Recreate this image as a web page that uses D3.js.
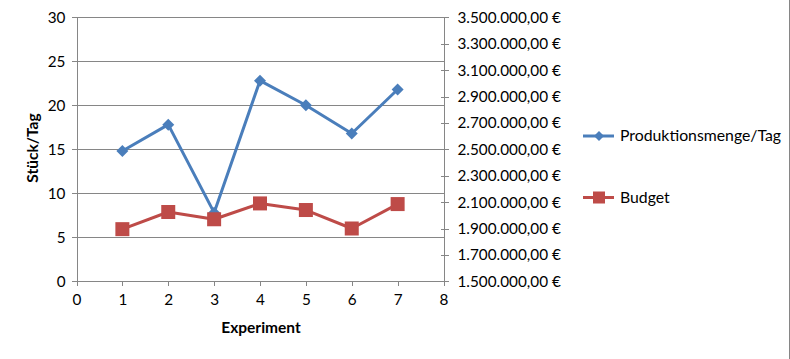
<!DOCTYPE html>
<html><head><meta charset="utf-8">
<script src="https://cdn.jsdelivr.net/npm/d3@7"></script>
<style>body{margin:0;background:#fff}svg{display:block}text{font-family:Lato,"Open Sans",sans-serif}</style>
</head><body>
<svg id="c" width="790" height="359"></svg>
<script>
const experiments = [1,2,3,4,5,6,7];
const produktion = [14.8, 17.8, 7.8, 22.8, 20.0, 16.8, 21.8];
const budget = [1895000, 2025000, 1970000, 2090000, 2040000, 1900000, 2085000];
const leftTicks = [0,5,10,15,20,25,30];
const xTicks = [0,1,2,3,4,5,6,7,8];
const rightTicks = [1500000,1700000,1900000,2100000,2300000,2500000,2700000,2900000,3100000,3300000,3500000];
const seriesNames = ["Produktionsmenge/Tag","Budget"];
const colors = ["#4a7ebb","#be4b48"];

const svg = d3.select("#c");
const x = d3.scaleLinear().domain([0,8]).range([76.5,443.5]);
const yL = d3.scaleLinear().domain([0,30]).range([281.3,17.3]);
const yR = d3.scaleLinear().domain([1500000,3500000]).range([281.3,17.3]);
const grid = "#868686";
const fmt = v => d3.format(",.2f")(v).replace(/,/g,"#").replace(/\./g,",").replace(/#/g,".") + " €";

svg.append("g").selectAll("line").data(leftTicks.slice(1)).join("line")
  .attr("x1",x(0)).attr("x2",x(8)).attr("y1",d=>yL(d)).attr("y2",d=>yL(d))
  .attr("stroke",grid).attr("stroke-width",1).attr("shape-rendering","crispEdges");

const gl = svg.append("g").attr("transform",`translate(${x(0)},0)`)
  .call(d3.axisLeft(yL).tickValues(leftTicks).tickSize(5).tickPadding(6));
const gb = svg.append("g").attr("transform",`translate(0,${yL(0)})`)
  .call(d3.axisBottom(x).tickValues(xTicks).tickSize(5).tickPadding(8));
const gr = svg.append("g").attr("transform",`translate(${x(8)},0)`)
  .call(d3.axisRight(yR).tickValues(rightTicks).tickFormat(fmt).tickSize(5).tickPadding(9));
[gl,gb,gr].forEach(g=>{
  g.select(".domain").attr("stroke",grid).attr("shape-rendering","crispEdges");
  g.selectAll(".tick line").attr("stroke",grid).attr("shape-rendering","crispEdges");
  g.selectAll(".tick text").attr("fill","#000").style("font-size","15.3px").style("font-family","Lato,'Open Sans',sans-serif");
});
gr.selectAll(".tick line").attr("x1",-3);

svg.append("text").attr("transform","translate(38,148) rotate(-90)").attr("text-anchor","middle")
  .style("font-size","15.5px").style("font-weight","bold").text("Stück/Tag");
svg.append("text").attr("x",261).attr("y",333).attr("text-anchor","middle")
  .style("font-size","15.5px").style("font-weight","bold").text("Experiment");

const lineL = d3.line().x((d,i)=>x(experiments[i])).y(d=>yL(d));
const lineR = d3.line().x((d,i)=>x(experiments[i])).y(d=>yR(d));
svg.append("path").attr("d",lineL(produktion)).attr("fill","none").attr("stroke",colors[0]).attr("stroke-width",3).attr("stroke-linejoin","round");
svg.append("path").attr("d",lineR(budget)).attr("fill","none").attr("stroke",colors[1]).attr("stroke-width",3).attr("stroke-linejoin","round");
svg.append("g").selectAll("path").data(produktion).join("path")
  .attr("transform",(d,i)=>`translate(${x(experiments[i])},${yL(d)}) rotate(45)`)
  .attr("d",d3.symbol().type(d3.symbolSquare).size(72)).attr("fill",colors[0]);
svg.append("g").selectAll("rect").data(budget).join("rect")
  .attr("x",(d,i)=>x(experiments[i])-7).attr("y",d=>yR(d)-7).attr("width",14).attr("height",14).attr("fill",colors[1]);

const leg = svg.append("g");
const ly = [136,197.5];
seriesNames.forEach((n,i)=>{
  leg.append("line").attr("x1",583).attr("x2",614).attr("y1",ly[i]).attr("y2",ly[i]).attr("stroke",colors[i]).attr("stroke-width",3);
  if(i===0) leg.append("path").attr("transform",`translate(599,${ly[i]}) rotate(45)`).attr("d",d3.symbol().type(d3.symbolSquare).size(50)).attr("fill",colors[i]);
  else leg.append("rect").attr("x",593).attr("y",ly[i]-6).attr("width",12).attr("height",12).attr("fill",colors[i]);
  leg.append("text").attr("x",620).attr("y",ly[i]+5).style("font-size","15.8px").text(n);
});
svg.append("line").attr("x1",789.5).attr("x2",789.5).attr("y1",0).attr("y2",359).attr("stroke",grid);
</script>
</body></html>
